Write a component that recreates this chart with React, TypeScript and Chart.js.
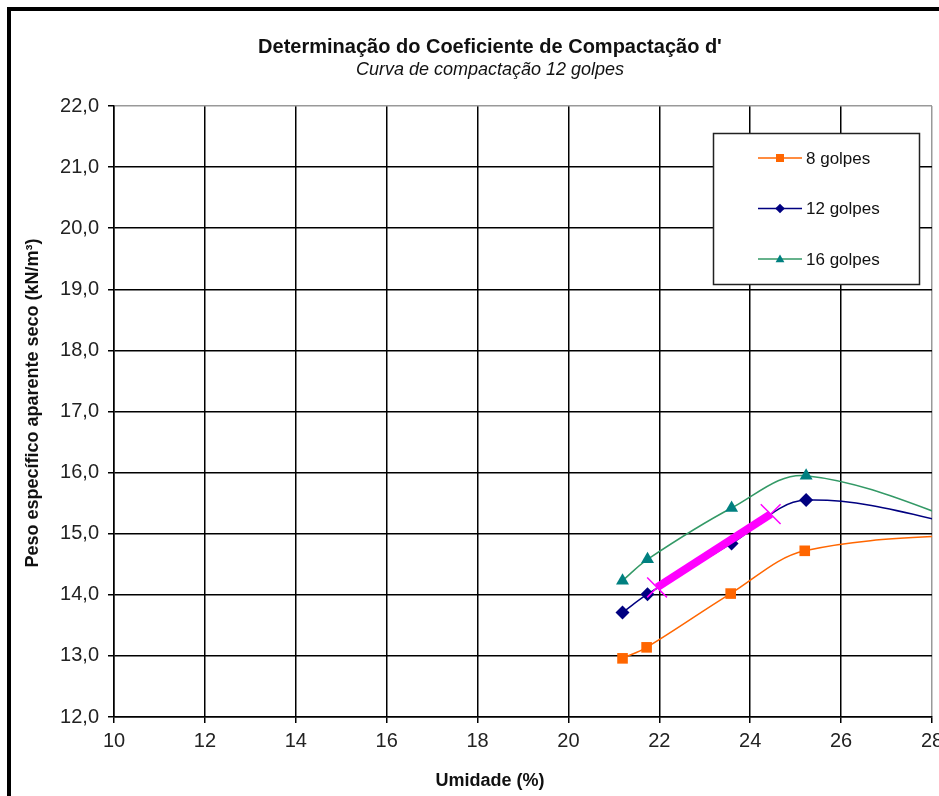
import React, { useEffect, useRef } from "react";
import { Chart, registerables } from "chart.js";

Chart.register(...registerables);

// ---- data ----
const moisture8 = [21.19, 21.72, 23.57, 25.2, 29.6];
const density8 = [12.96, 13.14, 14.02, 14.72, 15.03];

const moisture12 = [21.19, 21.74, 23.59, 25.23, 29.6];
const density12 = [13.71, 14.01, 14.84, 15.55, 14.98];

const moisture16 = [21.19, 21.74, 23.59, 25.23, 29.6];
const density16 = [14.23, 14.58, 15.42, 15.95, 14.95];

const moistureLine = [21.95, 24.45];
const densityLine = [14.12, 15.32];

const seriesNames = ["8 golpes", "12 golpes", "16 golpes"];
const titleText = "Determinação do Coeficiente de Compactação d'";
const subtitleText = "Curva de compactação 12 golpes";
const xTitle = "Umidade (%)";
const yTitle = "Peso específico aparente seco (kN/m³)";

const X_MIN = 10;
const X_MAX = 28;
const Y_MIN = 12;
const Y_MAX = 22;

const FONT = "'Liberation Sans', Arial, sans-serif";

const toPoints = (xs: number[], ys: number[]) => xs.map((x, i) => ({ x, y: ys[i] }));

function drawMarker(ctx: CanvasRenderingContext2D, style: string, x: number, y: number, r: number, color: string) {
  ctx.save();
  ctx.fillStyle = color;
  ctx.beginPath();
  if (style === "rect") {
    ctx.rect(x - r, y - r, 2 * r, 2 * r);
  } else if (style === "rectRot") {
    ctx.moveTo(x, y - r * 1.2);
    ctx.lineTo(x + r * 1.2, y);
    ctx.lineTo(x, y + r * 1.2);
    ctx.lineTo(x - r * 1.2, y);
    ctx.closePath();
  } else {
    ctx.moveTo(x, y - r * 1.1);
    ctx.lineTo(x + r * 1.1, y + r * 0.8);
    ctx.lineTo(x - r * 1.1, y + r * 0.8);
    ctx.closePath();
  }
  ctx.fill();
  ctx.restore();
}

const decorPlugin = {
  id: "decor",
  beforeDraw(chart: any) {
    const ctx = chart.ctx;
    ctx.save();
    ctx.fillStyle = "#ffffff";
    ctx.fillRect(0, 0, chart.width, chart.height);
    ctx.restore();
  },
  afterDraw(chart: any) {
    const ctx: CanvasRenderingContext2D = chart.ctx;
    ctx.save();
    // outer frame
    ctx.strokeStyle = "#000";
    ctx.lineWidth = 4;
    ctx.strokeRect(9, 9, 964, 820);

    // titles
    ctx.fillStyle = "#111";
    ctx.textAlign = "center";
    ctx.textBaseline = "alphabetic";
    ctx.font = `bold 20px ${FONT}`;
    ctx.fillText(titleText, 490, 53);
    ctx.font = `italic 18px ${FONT}`;
    ctx.fillText(subtitleText, 490, 75);

    // axis titles
    ctx.font = `bold 18px ${FONT}`;
    ctx.textBaseline = "middle";
    ctx.fillText(xTitle, 490, 781);
    ctx.save();
    ctx.translate(33, 403);
    ctx.rotate(-Math.PI / 2);
    ctx.fillText(yTitle, 0, 0);
    ctx.restore();

    // legend
    const lx = 713.5, ly = 133.5, lw = 206, lh = 151;
    ctx.fillStyle = "#fff";
    ctx.fillRect(lx, ly, lw, lh);
    ctx.strokeStyle = "#222";
    ctx.lineWidth = 1.5;
    ctx.strokeRect(lx, ly, lw, lh);
    const ds = chart.data.datasets;
    for (let i = 0; i < 3; i++) {
      const d = ds[i + 1];
      const y = 158 + i * 50.5;
      ctx.strokeStyle = d.borderColor;
      ctx.lineWidth = 1.5;
      ctx.beginPath();
      ctx.moveTo(758, y);
      ctx.lineTo(802, y);
      ctx.stroke();
      drawMarker(ctx, d.pointStyle, 780, y, 4, d.pointBackgroundColor);
      ctx.fillStyle = "#111";
      ctx.textAlign = "left";
      ctx.textBaseline = "middle";
      ctx.font = `17px ${FONT}`;
      ctx.fillText(seriesNames[i], 806, y + 1);
    }
    ctx.restore();
  },
};

export default function App() {
  const ref = useRef<HTMLCanvasElement | null>(null);

  useEffect(() => {
    if (!ref.current) return;
    const chart = new Chart(ref.current, {
      type: "line",
      data: {
        datasets: [
          {
            label: "reta",
            data: toPoints(moistureLine, densityLine),
            borderColor: "#FF00FF",
            backgroundColor: "#FF00FF",
            borderWidth: 8,
            pointStyle: "crossRot",
            pointRadius: 14,
            pointBorderWidth: 1.5,
            pointBorderColor: "#FF00FF",
            tension: 0,
            order: 0,
          } as any,
          {
            label: seriesNames[0],
            data: toPoints(moisture8, density8),
            borderColor: "#FF6600",
            backgroundColor: "#FF6600",
            pointBackgroundColor: "#FF6600",
            pointBorderColor: "#FF6600",
            borderWidth: 1.5,
            pointStyle: "rect",
            pointRadius: 7.5,
            pointBorderWidth: 0,
            tension: 0.35,
            order: 1,
          } as any,
          {
            label: seriesNames[1],
            data: toPoints(moisture12, density12),
            borderColor: "#000080",
            backgroundColor: "#000080",
            pointBackgroundColor: "#000080",
            pointBorderColor: "#000080",
            borderWidth: 1.5,
            pointStyle: "rectRot",
            pointRadius: 7,
            pointBorderWidth: 0,
            tension: 0.35,
            order: 1,
          } as any,
          {
            label: seriesNames[2],
            data: toPoints(moisture16, density16),
            borderColor: "#339966",
            backgroundColor: "#008080",
            pointBackgroundColor: "#008080",
            pointBorderColor: "#008080",
            borderWidth: 1.5,
            pointStyle: "triangle",
            pointRadius: 7.5,
            pointBorderWidth: 0,
            tension: 0.35,
            order: 1,
          } as any,
        ],
      },
      options: {
        responsive: false,
        animation: false,
        events: [],
        layout: { padding: { top: 106, left: 0, right: 48, bottom: 0 } },
        plugins: {
          legend: { display: false },
          title: { display: false },
          tooltip: { enabled: false },
        },
        scales: {
          x: {
            type: "linear",
            min: X_MIN,
            max: X_MAX,
            afterFit: (s: any) => {
              s.height = 93;
            },
            ticks: {
              stepSize: 2,
              color: "#222",
              font: { family: FONT, size: 20 },
              padding: 6,
              maxRotation: 0,
            },
            grid: {
              color: (c: any) => (c.tick && c.tick.value === X_MAX ? "#999" : "#000"),
              tickColor: "#000",
              lineWidth: 1.5,
              tickLength: 6,
            },
            border: { display: true, color: "#000", width: 1.5 },
          },
          y: {
            type: "linear",
            min: Y_MIN,
            max: Y_MAX,
            afterFit: (s: any) => {
              s.width = 114;
            },
            ticks: {
              stepSize: 1,
              color: "#222",
              font: { family: FONT, size: 20 },
              padding: 9,
              callback: (v: any) => Number(v).toFixed(1).replace(".", ","),
            },
            grid: {
              color: (c: any) => (c.tick && c.tick.value === Y_MAX ? "#999" : "#000"),
              tickColor: "#000",
              lineWidth: 1.5,
              tickLength: 6,
            },
            border: { display: true, color: "#000", width: 1.5 },
          },
        },
      } as any,
      plugins: [decorPlugin],
    });
    return () => chart.destroy();
  }, []);

  return (
    <div style={{ position: "fixed", left: 0, top: 0, width: 939, height: 796, overflow: "hidden", background: "#fff" }}>
      <canvas ref={ref} width={980} height={810} style={{ display: "block" }} />
    </div>
  );
}
